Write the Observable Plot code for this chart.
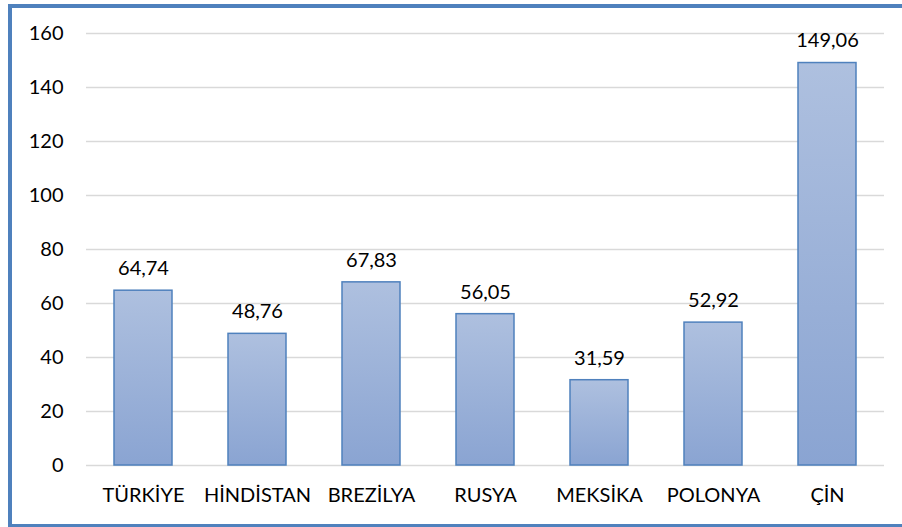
<!DOCTYPE html>
<html>
<head>
<meta charset="utf-8">
<script src="https://cdn.jsdelivr.net/npm/d3@7"></script>
<script src="https://cdn.jsdelivr.net/npm/@observablehq/plot@0.6"></script>
<style>
  html, body { margin: 0; padding: 0; background: #fff; overflow: hidden; }
  #wrap { position: relative; width: 902px; height: 527px; }
  #frame { position: absolute; left: 8px; top: 4px; width: 1000px; height: 516px; border: 4px solid #4F81BD; box-sizing: content-box; }
  #chart { position: absolute; left: 0; top: 0; }
</style>
</head>
<body>
<div id="wrap"><div id="frame"></div><div id="chart"></div></div>
<script>
const countries = ["TÜRKİYE", "HİNDİSTAN", "BREZİLYA", "RUSYA", "MEKSİKA", "POLONYA", "ÇİN"];
const values = [64.74, 48.76, 67.83, 56.05, 31.59, 52.92, 149.06];
const yTicks = [0, 20, 40, 60, 80, 100, 120, 140, 160];

const data = countries.map((c, i) => ({country: c, value: values[i]}));
const fmt = v => v.toFixed(2).replace(".", ",");
const font = "Lato, 'Open Sans', sans-serif";

const chart = Plot.plot({
  width: 902,
  height: 527,
  marginLeft: 86,
  marginRight: 18,
  marginTop: 33,
  marginBottom: 62,
  style: {fontFamily: font, fontSize: "20px", color: "#000", background: "transparent"},
  x: {domain: countries, paddingInner: 0.49, paddingOuter: 0.245, label: null, tickSize: 0, tickPadding: 22},
  y: {domain: [0, 160], ticks: yTicks, label: null, tickSize: 0, tickPadding: 23},
  marks: [
    Plot.gridY(yTicks, {stroke: "#D9D9D9", strokeOpacity: 1, strokeWidth: 1.5}),
    Plot.barY(data, {x: "country", y: "value", fill: "url(#barGrad)", stroke: "#4F81BD", strokeWidth: 1.5}),
    Plot.text(data, {x: "country", y: "value", text: d => fmt(d.value), dy: -22, fontSize: 20, fill: "#000"})
  ]
});

const defs = d3.select(chart).insert("defs", ":first-child");
const g = defs.append("linearGradient").attr("id", "barGrad").attr("x1", 0).attr("y1", 0).attr("x2", 0).attr("y2", 1);
g.append("stop").attr("offset", "0%").attr("stop-color", "#AEC0DF");
g.append("stop").attr("offset", "100%").attr("stop-color", "#8AA4D2");

document.getElementById("chart").appendChild(chart);
</script>
</body>
</html>
